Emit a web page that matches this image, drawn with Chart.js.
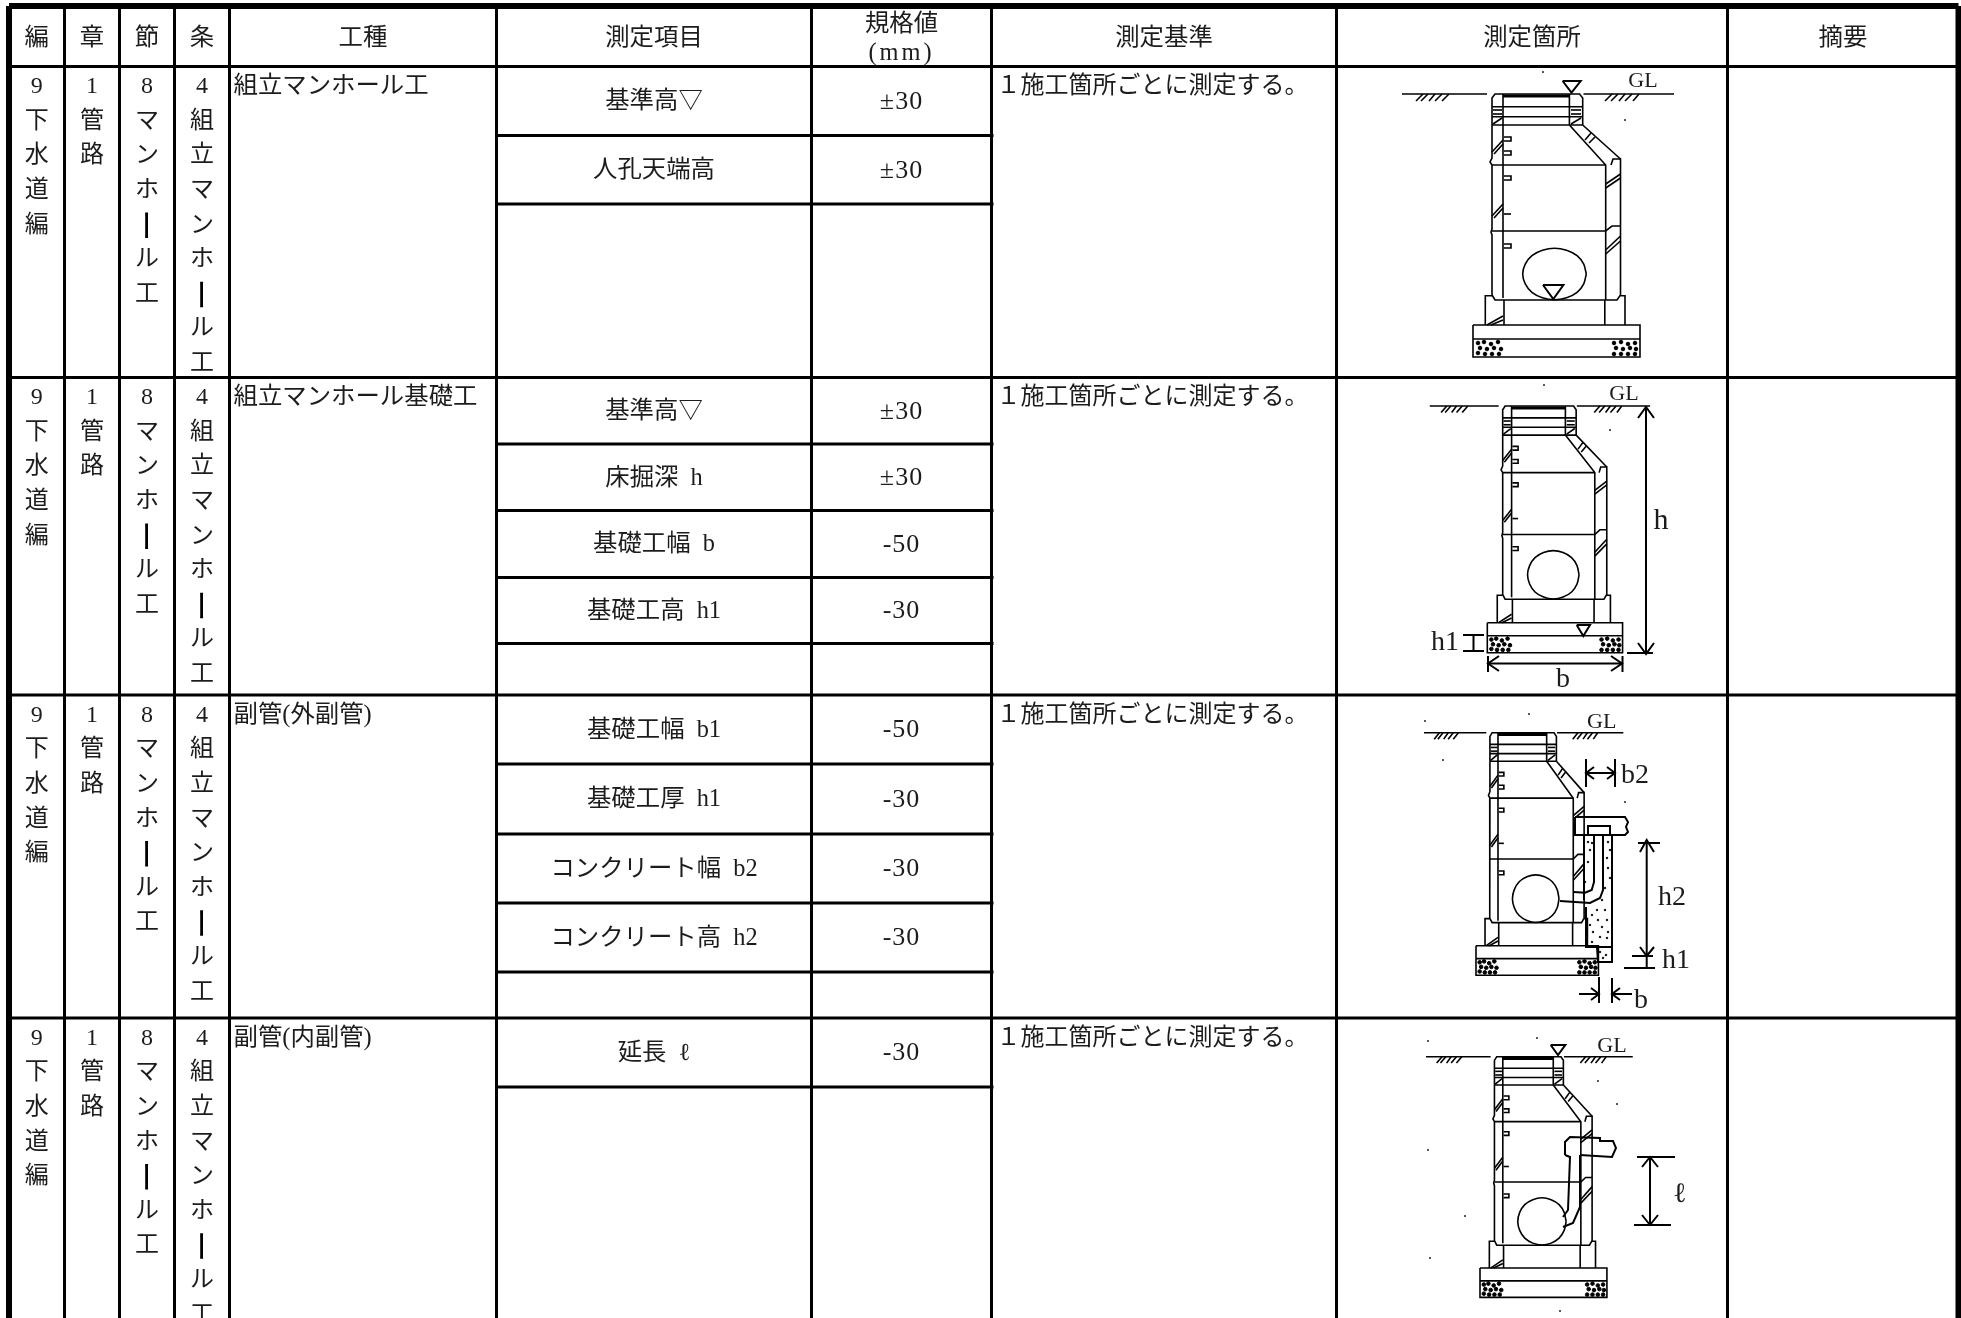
<!DOCTYPE html>
<html lang="ja">
<head>
<meta charset="utf-8">
<title>組立マンホール工 出来形管理基準</title>
<script src="https://cdn.jsdelivr.net/npm/chart.js@4"></script>
<style>
  html, body { margin: 0; padding: 0; background: #fff; }
  canvas { display: block; }
</style>
</head>
<body>
<canvas id="sheet" width="1961" height="1318"></canvas>
<script>
// Textos de la tabla
const headers = ["編", "章", "節", "条", "工種", "測定項目", "", "測定基準", "測定箇所", "摘要"];
const limitHeader = ["規格値", "(mm)"];
const editionChars = ["9", "下", "水", "道", "編"];
const chapterChars = ["1", "管", "路"];
const sectionChars = ["8", "マ", "ン", "ホ", "ー", "ル", "工"];
const articleChars = ["4", "組", "立", "マ", "ン", "ホ", "ー", "ル", "工"];
const workTypes = ["組立マンホール工", "組立マンホール基礎工", "副管(外副管)", "副管(内副管)"];
const measureItems = [
    ["基準高▽", "人孔天端高"],
    ["基準高▽", "床掘深 h", "基礎工幅 b", "基礎工高 h1"],
    ["基礎工幅 b1", "基礎工厚 h1", "コンクリート幅 b2", "コンクリート高 h2"],
    ["延長 ℓ"]
];
const limitValues = [
    ["±30", "±30"],
    ["±30", "±30", "-50", "-30"],
    ["-50", "-30", "-30", "-30"],
    ["-30"]
];
const criterion = "１施工箇所ごとに測定する。";

// Rejilla, en unidades del eje (px de la imagen original)
const columnEdges = [9, 64.5, 119.5, 174.5, 229.5, 496.5, 811.5, 991.5, 1336.5, 1727.5, 1958.5];
const rowEdges = [6, 66.5, 377.5, 695, 1018, 1318];
const subRowEdges = [
    [135.5, 204],
    [444, 510.5, 577.5, 643.5],
    [764, 834, 903, 972],
    [1087]
];

// Plano de la cámara, relativo a la esquina izquierda de la zapata y a la línea de terreno
const manholeLines = [
    [[-71, 0], [14, 0]],
    [[110.5, 0], [201, 0]],
    [[19, 31], [19, 4], [22, 0], [30, 0], [96.4, 0], [106.5, 0], [109.7, 4], [109.7, 31]],
    [[30, 0], [30, 204]],
    [[96.4, 0], [96.4, 31]],
    [[19, 12.7], [109.7, 12.7]],
    [[19, 22.7], [109.7, 22.7]],
    [[19, 31], [109.7, 31]],
    [[19, 31], [19, 64], [17, 68], [19, 71], [19, 135], [18, 138], [19, 141], [19, 201], [22, 206], [144, 206], [147.5, 201], [147.5, 65], [140, 65], [138, 71]],
    [[96.4, 31], [132.7, 71], [132.7, 206]],
    [[109.7, 31], [147.5, 65]],
    [[19, 71], [132.7, 71]],
    [[19, 137], [132.7, 137], [139, 132], [147.5, 132]],
    [[12.3, 231], [12.3, 201.7], [19, 201.7]],
    [[147.5, 201.7], [152, 201.7], [152, 231]],
    [[31, 206], [31, 231]],
    [[131.8, 206], [131.8, 231]],
    [[0, 231], [167, 231], [167, 263], [0, 263], [0, 231]],
    [[0, 245], [167, 245]],
    [[31, 43], [38, 43], [38, 47], [31, 47]],
    [[31, 57], [38, 57], [38, 61], [31, 61]],
    [[31, 82], [38, 82], [38, 86], [31, 86]],
    [[31, 120], [38, 120]],
    [[31, 150], [38, 150], [38, 154], [31, 154]],
    // rayado de muros y terreno
    [[19, 58], [30, 46]], [[21, 60], [30, 50]],
    [[19, 122], [30, 110]], [[21, 124], [30, 114]],
    [[132.7, 90], [147.5, 80]], [[132.7, 94], [147.5, 84]],
    [[132.7, 156], [147.5, 142]], [[132.7, 160], [147.5, 147]],
    [[14, 231], [30, 222]], [[18, 231], [30, 226]],
    [[112, 46], [118, 39]], [[116, 49], [122, 43]],
    [[20, 30], [29, 24]], [[98, 30], [108, 24]],
    [[20, 16], [29, 16]], [[98, 16], [108, 16]],
    [[20, 20], [29, 20]], [[98, 20], [108, 20]],
    [[-57, 7], [-50, 0]], [[-52, 7], [-45, 0]], [[-44, 7], [-38, 0]], [[-38, 7], [-31, 0]], [[-31, 7], [-24, 0]],
    [[132, 7], [139, 0]], [[138, 7], [145, 0]], [[146, 7], [152, 0]], [[152, 7], [159, 0]], [[160, 7], [166, 0]]
];
const coverLine = [[30, 2], [96.4, 2]];
const pipeCenter = [81.5, 180];
const pipeRadius = [31.8, 25.8];
const pipeRing = [[1, 0], [.92, .38], [.71, .71], [.38, .92], [0, 1], [-.38, .92], [-.71, .71], [-.92, .38], [-1, 0],
    [-.92, -.38], [-.71, -.71], [-.38, -.92], [0, -1], [.38, -.92], [.71, -.71], [.92, -.38], [1, 0]];
const rubbleSpots = [
    [5, 249], [11, 248], [18, 250], [25, 248], [7, 254], [14, 255], [21, 254], [28, 255], [5, 259], [12, 260], [19, 260], [26, 260],
    [141, 249], [148, 248], [155, 250], [162, 249], [143, 254], [150, 255], [157, 254], [163, 255], [141, 260], [148, 260], [155, 260], [162, 260]
];

// Origen y escala de cada plano dentro de su fila
const drawingOriginX = [1473, 1487.3, 1476, 1480];
const drawingOriginY = [94, 406, 732.7, 1056.7];
const drawingScaleX = [1, 0.81, 0.733, 0.76];
const drawingScaleY = [1, 0.938, 0.922, 0.915];

// Detalles propios de cada plano, en unidades del eje
const firstDetail = [
    [[1562.6, 81], [1580.7, 81], [1571.5, 92.7], [1562.6, 81]],
    [[1543, 285], [1563.4, 285], [1553.3, 299], [1543, 285]]
];
const secondDetail = [
    [[1576.7, 625], [1590, 625], [1583.3, 636], [1576.7, 625]],
    [[1646, 407], [1646, 653]], [[1638, 418], [1646, 407], [1654, 418]], [[1638, 643], [1646, 654], [1654, 643]],
    [[1627, 653], [1653, 653]],
    [[1463, 635], [1484, 635]], [[1463, 651], [1484, 651]], [[1473.5, 635], [1473.5, 651]],
    [[1488, 663.5], [1622, 663.5]], [[1488, 656], [1488, 672]], [[1622.5, 656], [1622.5, 672]],
    [[1499, 656], [1488, 663.5], [1499, 671]], [[1611, 656], [1622, 663.5], [1611, 671]]
];
const thirdDetail = [
    [[1586, 759], [1586, 787]], [[1615, 759], [1615, 787]], [[1586, 773], [1615, 773]],
    [[1594, 767], [1586, 773], [1594, 779]], [[1607, 767], [1615, 773], [1607, 779]],
    [[1575, 817], [1625, 817], [1628, 822], [1626, 827], [1628, 832], [1625, 835], [1575, 835], [1575, 817]],
    [[1588, 835], [1588, 826], [1610, 826], [1610, 835]],
    [[1584, 836], [1584, 900]], [[1612, 835], [1612, 960]],
    [[1603, 835], [1603, 890], [1600, 898], [1590, 903], [1560, 901]],
    [[1594, 835], [1594, 882], [1591.7, 890], [1585, 892.7], [1574, 892]],
    [[1586, 907], [1586, 947], [1597, 947]],
    [[1597, 947], [1612, 947], [1612, 962], [1598, 962], [1597, 947]],
    [[1646.7, 840], [1646.7, 968]], [[1640, 852], [1646.7, 840], [1654, 852]], [[1640, 947], [1646.7, 956], [1654, 947]],
    [[1638, 843], [1660, 843]], [[1632, 956], [1653, 956]], [[1624, 968], [1655, 968]],
    [[1599, 977], [1599, 1003]], [[1612, 978], [1612, 1003]],
    [[1579, 994], [1599, 994]], [[1591, 988], [1599, 994], [1591, 1000]],
    [[1612, 994], [1632, 994]], [[1620, 988], [1612, 994], [1620, 1000]]
];
const concreteSpots = [
    [1588, 842], [1592, 843], [1590, 850], [1588, 862], [1585, 882], [1608, 842], [1610, 850], [1607, 858],
    [1608, 868], [1610, 878], [1605, 888], [1602, 900], [1597, 910], [1605, 910], [1592, 915], [1598, 920],
    [1607, 920], [1590, 925], [1602, 927], [1593, 932], [1608, 932], [1592, 942], [1600, 937], [1607, 938],
    [1600, 952], [1606, 955], [1603, 958]
];
const fourthDetail = [
    [[1550.7, 1045], [1565.3, 1045], [1558, 1055], [1550.7, 1045]],
    [[1565, 1155], [1565, 1142], [1570, 1137], [1600, 1138], [1600, 1141], [1613, 1141], [1616, 1148], [1612, 1157], [1580, 1155]],
    [[1565, 1155], [1570, 1157], [1568, 1210], [1563, 1217]],
    [[1580, 1155], [1580, 1207], [1573, 1223], [1563, 1227]],
    [[1637, 1157], [1675, 1157]], [[1634, 1225], [1671, 1225]], [[1650, 1157], [1650, 1225]],
    [[1642, 1167], [1650, 1157], [1658, 1167]], [[1642, 1215], [1650, 1225], [1658, 1215]]
];
const drawingSpecks = [
    [1543, 72], [1625, 120], [1544, 385], [1610, 430], [1425, 721], [1529, 714], [1443, 760], [1625, 802],
    [1428, 1041], [1537, 1038], [1598, 1081], [1617, 1104], [1428, 1150], [1465, 1216], [1430, 1258], [1560, 1311]
];

// Rótulos de los planos: texto, x, y, fuente, alineación
const drawingLabels = [
    ["GL", 1643, 79, "22px", "center"],
    ["GL", 1624, 392, "22px", "center"],
    ["h", 1661, 519, "30px", "center"],
    ["h1", 1445, 641, "28px", "center"],
    ["b", 1563, 678, "28px", "center"],
    ["GL", 1601.7, 720, "22px", "center"],
    ["b2", 1621, 774, "28px", "left"],
    ["h2", 1672, 896, "28px", "center"],
    ["h1", 1676, 959, "28px", "center"],
    ["b", 1641, 999, "28px", "center"],
    ["GL", 1612, 1044, "22px", "center"],
    ["ℓ", 1680, 1193, "28px", "center"]
];

const FONT_STACK = '"Liberation Serif", "Noto Sans CJK JP"';
const TEXT_COLOR = "#1c1c1c";
const TEXT_DROP = 2; // el texto CJK queda alto con baseline "middle"

function toPoints(line) {
    return line.map(p => ({ x: p[0], y: p[1] }));
}

function lineSet(line, width, tension) {
    return {
        data: toPoints(line),
        showLine: true,
        borderColor: "#000",
        borderWidth: width,
        pointRadius: 0,
        tension: tension || 0,
        clip: false
    };
}

function spotSet(spots, radius) {
    return {
        data: toPoints(spots),
        showLine: false,
        pointRadius: radius,
        pointBorderWidth: 1,
        pointBorderColor: "#000",
        pointBackgroundColor: "#000",
        clip: false
    };
}

function gridSets() {
    const sets = [];
    const top = rowEdges[0];
    const bottom = rowEdges[rowEdges.length - 1];
    columnEdges.forEach((x, i) => {
        const outer = i === 0 || i === columnEdges.length - 1;
        sets.push(lineSet([[x, top], [x, bottom]], outer ? 6 : 3));
    });
    rowEdges.slice(0, -1).forEach((y, i) => {
        sets.push(lineSet([[columnEdges[0], y], [columnEdges[10], y]], i === 0 ? 6 : 3));
    });
    // Las líneas de subfila sobresalen un poco de la columna de 規格値
    subRowEdges.flat().forEach(y => {
        sets.push(lineSet([[columnEdges[5], y], [columnEdges[7] + 2, y]], 3));
    });
    return sets;
}

function drawingSets(index) {
    const place = p => [
        drawingOriginX[index] + p[0] * drawingScaleX[index],
        drawingOriginY[index] + p[1] * drawingScaleY[index]
    ];
    const sets = manholeLines.map(line => lineSet(line.map(place), 1.6));
    sets.push(lineSet(coverLine.map(place), 3));
    const ring = pipeRing.map(r => [pipeCenter[0] + r[0] * pipeRadius[0], pipeCenter[1] + r[1] * pipeRadius[1]]);
    sets.push(lineSet(ring.map(place), 1.6, 0.3));
    sets.push(spotSet(rubbleSpots.map(place), 1.8));
    return sets;
}

const detailSets = [firstDetail, secondDetail, thirdDetail, fourthDetail]
    .flat()
    .map(line => lineSet(line, 2));

// Escribe todos los textos pasando por las escalas del gráfico
const tableText = {
    id: "tableText",
    afterDatasetsDraw(chart) {
        const { ctx, scales } = chart;
        const put = (text, x, y, opts) => {
            const o = opts || {};
            ctx.font = (o.font || "24.4px") + " " + FONT_STACK;
            ctx.textAlign = o.align || "center";
            ctx.textBaseline = "middle";
            ctx.fillStyle = TEXT_COLOR;
            ctx.letterSpacing = o.spacing || "0px";
            ctx.wordSpacing = o.wordSpacing || "0px";
            ctx.fillText(text, scales.x.getPixelForValue(x), scales.y.getPixelForValue(y + TEXT_DROP));
        };
        // El guion largo va girado en las columnas de texto vertical
        const putLongVowel = (x, y) => {
            ctx.save();
            ctx.translate(scales.x.getPixelForValue(x) - 3, scales.y.getPixelForValue(y));
            ctx.rotate(Math.PI / 2);
            ctx.scale(1.3, 0.8);
            ctx.font = "bold 24px " + FONT_STACK;
            ctx.textAlign = "center";
            ctx.textBaseline = "middle";
            ctx.fillStyle = "#000";
            ctx.letterSpacing = "0px";
            ctx.fillText("ー", 0, 0);
            ctx.restore();
        };
        const middle = (list, i) => (list[i] + list[i + 1]) / 2;

        headers.forEach((h, i) => put(h, middle(columnEdges, i), 36.5));
        put(limitHeader[0], middle(columnEdges, 6), 23);
        put(limitHeader[1], middle(columnEdges, 6), 52, { spacing: "3px" });

        workTypes.forEach((work, r) => {
            const top = rowEdges[r + 1];
            const stacks = [editionChars, chapterChars, sectionChars, articleChars];
            stacks.forEach((chars, c) => {
                chars.forEach((ch, k) => {
                    const y = top + 18.5 + k * 34.6;
                    if (ch === "ー") putLongVowel(middle(columnEdges, c), y + TEXT_DROP);
                    else put(ch, middle(columnEdges, c), y, { font: "24px" });
                });
            });
            put(work, columnEdges[4] + 4, top + 18.5, { align: "left" });
            put(criterion, columnEdges[7] + 5, top + 18.5, { align: "left", font: "24px" });

            const edges = [top, ...subRowEdges[r]];
            measureItems[r].forEach((item, k) => {
                const y = middle(edges, k);
                put(item, middle(columnEdges, 5), y - 1, { wordSpacing: "6px" });
                put(limitValues[r][k], middle(columnEdges, 6), y - 1, { font: "26px", spacing: "1px" });
            });
        });

        drawingLabels.forEach(l => put(l[0], l[1], l[2], { font: l[3], align: l[4] }));
    }
};

const datasets = [
    ...gridSets(),
    ...[0, 1, 2, 3].flatMap(drawingSets),
    ...detailSets,
    spotSet(concreteSpots, 0.8),
    spotSet(drawingSpecks, 0.5)
];

new Chart(document.getElementById("sheet").getContext("2d"), {
    type: "scatter",
    data: { datasets },
    options: {
        responsive: false,
        animation: false,
        events: [],
        layout: { autoPadding: false, padding: 0 },
        plugins: { legend: { display: false }, tooltip: { enabled: false }, title: { display: false } },
        scales: {
            x: { type: "linear", min: 0, max: 1961, display: false },
            y: { type: "linear", min: 0, max: 1318, reverse: true, display: false }
        }
    },
    plugins: [tableText]
});
</script>
</body>
</html>
